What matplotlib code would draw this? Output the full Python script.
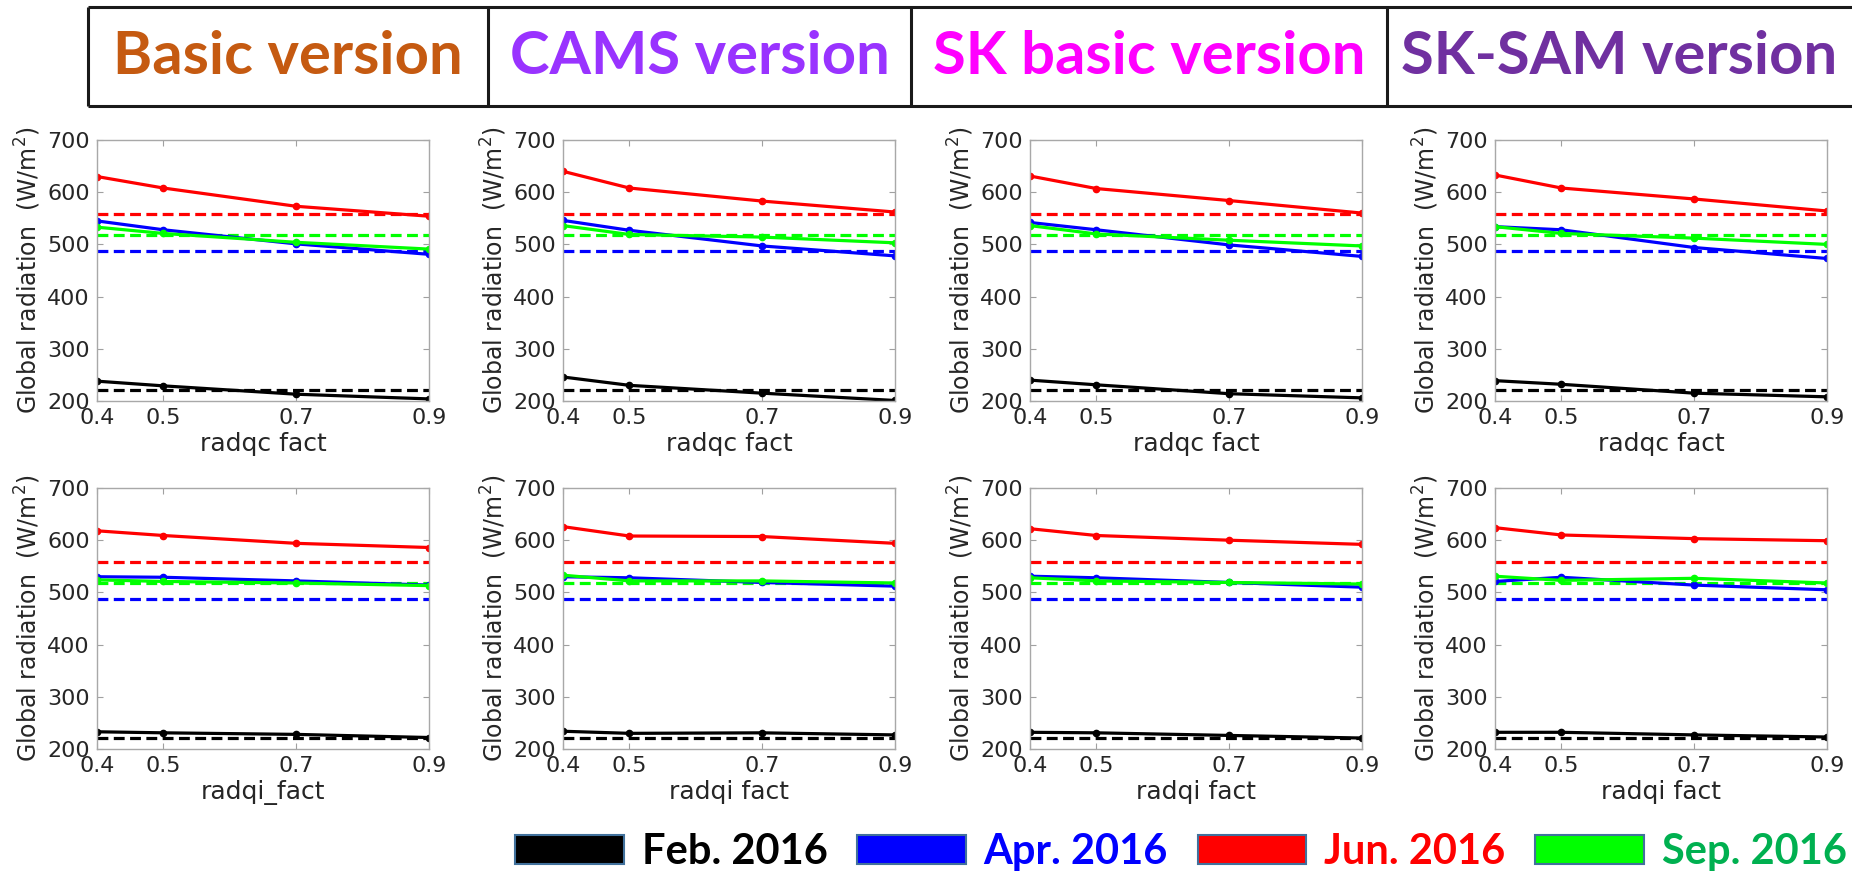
import matplotlib
matplotlib.use('Agg')
import matplotlib.pyplot as plt
from matplotlib.lines import Line2D
from matplotlib.patches import Patch

W, H = 1852, 875

x_fact = [0.4, 0.5, 0.7, 0.9]
versions = ['Basic version', 'CAMS version', 'SK basic version', 'SK-SAM version']
version_colors = ['#c55a11', '#9933ff', '#ff00ff', '#7030a0']
months = ['Feb. 2016', 'Apr. 2016', 'Jun. 2016', 'Sep. 2016']
line_colors = ['#000000', '#0000ff', '#ff0000', '#00ff00']
text_colors = ['#000000', '#0000ff', '#ff0000', '#00b050']

# observed monthly mean (dashed lines), Feb/Apr/Jun/Sep
obs = [222, 488, 559, 518]

# radqc_fact sensitivity, rows = Feb, Apr, Jun, Sep
radqc_basic = [[238, 229, 213, 204], [545, 528, 501, 481], [630, 608, 573, 554], [533, 521, 504, 491]]
radqc_cams = [[246, 230, 215, 201], [546, 527, 497, 478], [640, 608, 583, 562], [536, 519, 514, 503]]
radqc_sk = [[240, 231, 214, 206], [542, 528, 499, 477], [631, 607, 584, 560], [536, 520, 508, 497]]
radqc_sksam = [[239, 232, 215, 208], [534, 528, 494, 473], [633, 608, 587, 564], [534, 521, 512, 500]]

# radqi_fact sensitivity
radqi_basic = [[233, 231, 228, 222], [530, 529, 522, 514], [618, 609, 594, 586], [524, 521, 518, 513]]
radqi_cams = [[234, 230, 231, 227], [530, 528, 519, 512], [626, 608, 607, 594], [533, 522, 522, 518]]
radqi_sk = [[232, 231, 226, 221], [531, 528, 519, 510], [622, 609, 600, 592], [528, 522, 519, 516]]
radqi_sksam = [[232, 232, 227, 223], [521, 529, 514, 505], [624, 610, 603, 599], [531, 523, 527, 518]]

rows = [[radqc_basic, radqc_cams, radqc_sk, radqc_sksam],
        [radqi_basic, radqi_cams, radqi_sk, radqi_sksam]]
xlabels = [['radqc fact'] * 4, ['radqi_fact', 'radqi fact', 'radqi fact', 'radqi fact']]

fig = plt.figure(figsize=(W / 100, H / 100), dpi=100)


def fx(px):
    return px / W


def fy(py):
    return 1 - py / H


# header boxes
hdr_kw = dict(color='#1a1a1a', lw=2.2, transform=fig.transFigure, solid_capstyle='butt')
fig.add_artist(Line2D([fx(88), 1], [fy(7), fy(7)], **hdr_kw))
fig.add_artist(Line2D([fx(88), 1], [fy(106), fy(106)], **hdr_kw))
edges = [88, 488, 911, 1387, W]
for xe in edges[:-1]:
    fig.add_artist(Line2D([fx(xe), fx(xe)], [fy(7), fy(106)], **hdr_kw))
for i, name in enumerate(versions):
    fig.text(fx((edges[i] + edges[i + 1]) / 2), fy(57), name, ha='center', va='center',
             fontsize=43, fontweight='bold', family='Lato', color=version_colors[i])

col_left = [97, 563, 1030, 1495]
row_top = [140, 488]
ax_w, ax_h = 332, 261

for r in range(2):
    for c in range(4):
        ax = fig.add_axes([fx(col_left[c]), fy(row_top[r] + ax_h), ax_w / W, ax_h / H])
        data = rows[r][c]
        for k in range(4):
            ax.axhline(obs[k], color=line_colors[k], lw=2.3, dashes=(3.4, 1.7))
        for k in range(4):
            ax.plot(x_fact, data[k], color=line_colors[k], lw=2.3, marker='o', ms=4.5)
        ax.set_xlim(0.4, 0.9)
        ax.set_ylim(200, 700)
        ax.set_xticks(x_fact)
        ax.set_xticklabels(['0.4', '0.5', '0.7', '0.9'])
        ax.set_yticks([200, 300, 400, 500, 600, 700])
        ax.tick_params(direction='in', top=True, right=True, length=4, color='#a0a0a0',
                       labelsize=16, labelcolor='#262626', pad=5)
        for sp in ax.spines.values():
            sp.set_color('#a8a8a8')
            sp.set_linewidth(1)
        ax.set_xlabel(xlabels[r][c], fontsize=18, color='#262626', labelpad=3)
        ax.set_ylabel('Global radiation  (W/m$^2$)', fontsize=17, color='#262626', labelpad=3)

handles = [Patch(facecolor=line_colors[k], edgecolor='#41719c', lw=1.5) for k in range(4)]
leg = fig.legend(handles, months, loc='center', bbox_to_anchor=(fx(1181), fy(852)), ncol=4,
                 frameon=False, prop={'family': 'Lato', 'weight': 'bold', 'size': 30},
                 handlelength=2.6, handleheight=0.67, handletextpad=0.43, columnspacing=0.72)
for t, col in zip(leg.get_texts(), text_colors):
    t.set_color(col)

fig.savefig('out.png', dpi=100)
